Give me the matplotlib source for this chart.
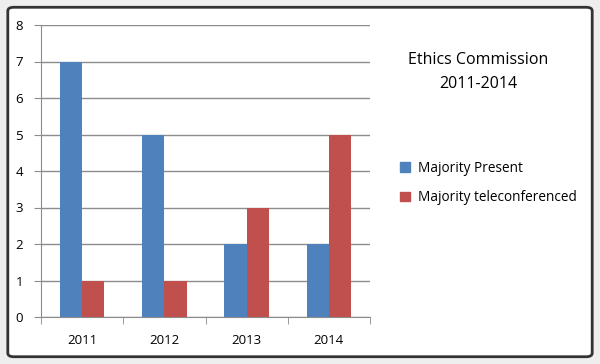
import matplotlib.pyplot as plt
from matplotlib.patches import FancyBboxPatch, Patch
import numpy as np

years = ["2011", "2012", "2013", "2014"]
present = [7, 5, 2, 2]
teleconf = [1, 1, 3, 5]

plt.rcParams['font.family'] = ['Open Sans', 'DejaVu Sans']

fig = plt.figure(figsize=(6, 3.64), dpi=100)
fig.patch.set_facecolor('#eeeeee')

# chart frame like the Excel chart object
frame = FancyBboxPatch((0.013, 0.02), 0.974, 0.96, boxstyle="round,pad=0,rounding_size=0.01",
                       transform=fig.transFigure, facecolor='white', edgecolor='#333333',
                       linewidth=2.0, zorder=-5)
fig.patches.append(frame)

ax = fig.add_axes([41/600, 1 - 317/364, 329/600, 292/364])
ax.set_facecolor('none')
ax.set_zorder(2)

x = np.arange(len(years))
w = 0.27
ax.bar(x - w/2, present, w, color='#4F81BD', label='Majority Present', zorder=3)
ax.bar(x + w/2, teleconf, w, color='#C0504D', label='Majority teleconferenced', zorder=3)

ax.set_xlim(-0.5, 3.5)
ax.set_ylim(0, 8)
ax.set_yticks(range(0, 9))
ax.set_xticks(x)
ax.set_xticklabels(years)
ax.set_xticks(np.arange(-0.5, 4, 1), minor=True)
ax.grid(axis='y', color='#8c8c8c', linewidth=1, zorder=0)
for s in ['top', 'right']:
    ax.spines[s].set_visible(False)
for s in ['left', 'bottom']:
    ax.spines[s].set_color('#8c8c8c')
ax.tick_params(axis='x', which='major', length=0, pad=12, labelsize=9.5)
ax.tick_params(axis='x', which='minor', length=5, color='#8c8c8c', direction='out')
ax.tick_params(axis='y', length=5, color='#8c8c8c', pad=8, labelsize=9.5)

fig.text(478/600, 1 - 72/364, "Ethics Commission\n2011-2014", ha='center', va='center',
         fontsize=11.5, linespacing=1.6)

handles = [Patch(color='#4F81BD', label='Majority Present'),
           Patch(color='#C0504D', label='Majority teleconferenced')]
fig.legend(handles=handles, loc='center left', bbox_to_anchor=(388/600, 1 - 183/364),
           frameon=False, fontsize=9.8, handlelength=0.7, handleheight=0.7,
           handletextpad=0.6, labelspacing=1.1)

fig.savefig('out.png', dpi=100, facecolor=fig.get_facecolor())
